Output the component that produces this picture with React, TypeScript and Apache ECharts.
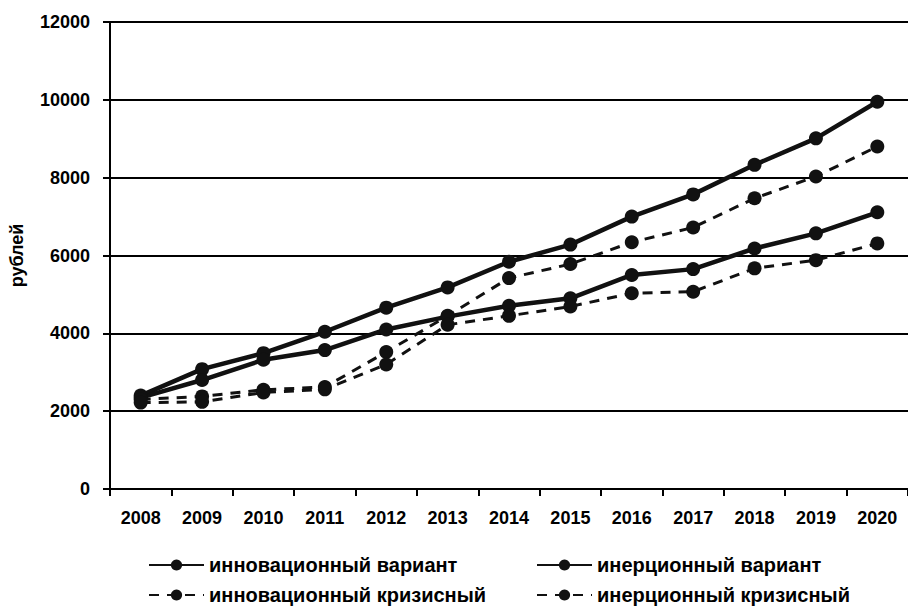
import React, { useEffect, useRef } from "react";
import * as echarts from "echarts";

const years = ["2008", "2009", "2010", "2011", "2012", "2013", "2014", "2015", "2016", "2017", "2018", "2019", "2020"];
const innovVariant = [2400, 3080, 3490, 4040, 4660, 5180, 5840, 6280, 7000, 7570, 8330, 9010, 9950];
const inertVariant = [2350, 2800, 3320, 3570, 4100, 4430, 4710, 4900, 5500, 5650, 6180, 6570, 7110];
const innovCrisis = [2300, 2380, 2550, 2620, 3520, 4450, 5420, 5780, 6340, 6720, 7470, 8030, 8800];
const inertCrisis = [2220, 2240, 2480, 2560, 3200, 4220, 4450, 4690, 5030, 5070, 5670, 5880, 6310];

const names = ["инновационный вариант", "инерционный вариант", "инновационный кризисный", "инерционный кризисный"];

const FONT = "'Liberation Sans', Arial, sans-serif";

export default function App() {
  const ref = useRef<HTMLDivElement>(null);
  useEffect(() => {
    document.body.style.margin = "0";
    const chart = echarts.init(ref.current!, null, { renderer: "svg" });
    const mk = (name: string, data: number[], dashed: boolean) => ({
      name,
      type: "line",
      data,
      symbol: "circle",
      symbolSize: 14,
      itemStyle: { color: "#111" },
      lineStyle: { color: "#111", width: dashed ? 3 : 4.5, type: dashed ? [10, 8] : "solid" },
    });
    const legendBase = {
      orient: "horizontal",
      top: 550,
      width: 330,
      itemWidth: 55,
      itemHeight: 14,
      itemGap: 10,
      textStyle: { color: "#000", fontFamily: FONT, fontWeight: "bold", fontSize: 20 },
    };
    chart.setOption({
      animation: false,
      backgroundColor: "#fff",
      grid: { left: 110, right: -6, top: 22, bottom: 608 - 489 },
      xAxis: {
        type: "category",
        data: years,
        boundaryGap: true,
        axisLine: { lineStyle: { color: "#000", width: 2 } },
        axisTick: { show: true, length: 7, lineStyle: { color: "#000", width: 2 } },
        axisLabel: { color: "#000", fontFamily: FONT, fontWeight: "bold", fontSize: 18, margin: 20 },
        splitLine: { show: false },
      },
      yAxis: {
        type: "value",
        min: 0,
        max: 12000,
        interval: 2000,
        name: "рублей",
        nameLocation: "middle",
        nameGap: 84,
        nameTextStyle: { color: "#000", fontFamily: FONT, fontWeight: "bold", fontSize: 18 },
        axisLine: { show: true, lineStyle: { color: "#000", width: 2 } },
        axisTick: { show: true, length: 7, lineStyle: { color: "#000", width: 2 } },
        axisLabel: {
          color: "#000",
          fontFamily: FONT,
          fontWeight: "bold",
          fontSize: 18,
          margin: 20,
          formatter: (v: number) => String(v),
        },
        splitLine: { show: true, lineStyle: { color: "#000", width: 2 } },
      },
      legend: [
        { ...legendBase, left: 143, data: [names[0], names[2]] },
        { ...legendBase, left: 531, data: [names[1], names[3]] },
      ],
      series: [
        mk(names[0], innovVariant, false),
        mk(names[1], inertVariant, false),
        mk(names[2], innovCrisis, true),
        mk(names[3], inertCrisis, true),
      ],
    });
    return () => chart.dispose();
  }, []);
  return <div ref={ref} style={{ width: 908, height: 608 }} />;
}
